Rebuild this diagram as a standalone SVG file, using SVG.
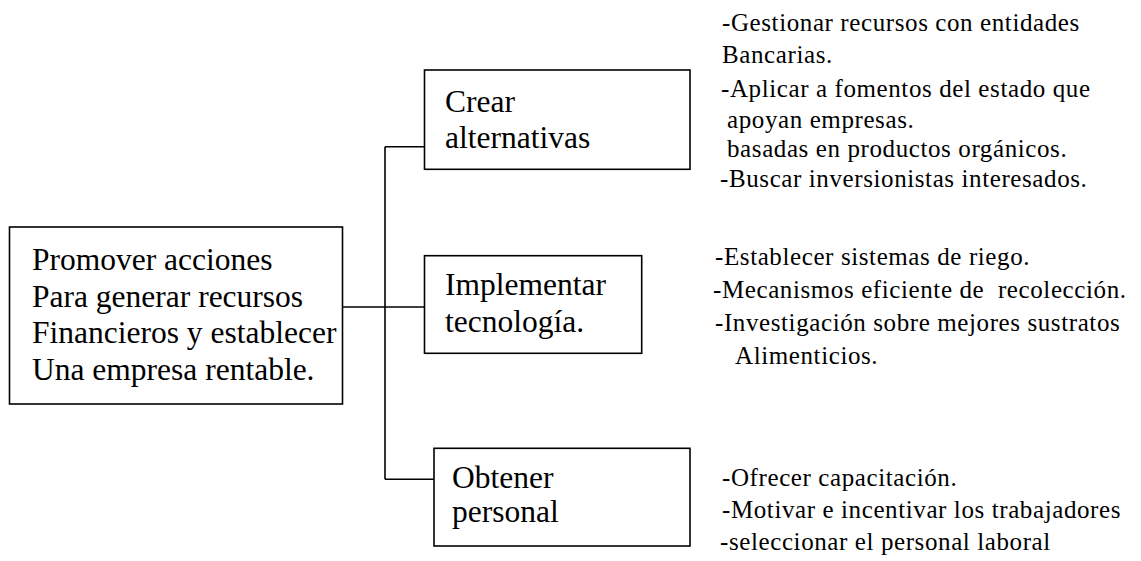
<svg xmlns="http://www.w3.org/2000/svg" width="1141" height="561" viewBox="0 0 1141 561">
<style>
.box{fill:#fff;stroke:#000;stroke-width:1.6}
.bt{font-family:"Liberation Serif","Times New Roman",serif;font-size:31.5px;fill:#000}
.lt{font-family:"Liberation Serif","Times New Roman",serif;font-size:25px;letter-spacing:0.6px;fill:#000;white-space:pre}
.conn{fill:none;stroke:#000;stroke-width:1.6}
</style>
<rect width="1141" height="561" fill="#fff"/>
<g id="connectors">
<path class="conn" d="M340 307H424.5"/>
<path class="conn" d="M385 146.7V479.3"/>
<path class="conn" d="M385 146.7H424.5"/>
<path class="conn" d="M385 479.3H434"/>
</g>
<g id="root">
<rect class="box" x="9.5" y="227" width="333" height="177"/>
<text class="bt" x="32" y="270">Promover acciones</text>
<text class="bt" x="32" y="306.5">Para generar recursos</text>
<text class="bt" x="32" y="343">Financieros y establecer</text>
<text class="bt" x="32" y="379.5">Una empresa rentable.</text>
</g>
<g id="crear">
<rect class="box" x="424.5" y="70" width="265.5" height="99.3"/>
<text class="bt" x="445" y="111.7">Crear</text>
<text class="bt" x="445" y="148">alternativas</text>
</g>
<g id="implementar">
<rect class="box" x="424.5" y="255.7" width="217.2" height="97.6"/>
<text class="bt" x="445" y="295">Implementar</text>
<text class="bt" x="445" y="331.7">tecnología.</text>
</g>
<g id="obtener">
<rect class="box" x="434" y="448.3" width="256" height="97.7"/>
<text class="bt" x="452" y="488.3">Obtener</text>
<text class="bt" x="452" y="521.7">personal</text>
</g>
<g id="list-crear">
<text class="lt" x="722" y="31">-Gestionar recursos con entidades</text>
<text class="lt" x="722" y="63">Bancarias.</text>
<text class="lt" x="721" y="96.5">-Aplicar a fomentos del estado que</text>
<text class="lt" x="727" y="128">apoyan empresas.</text>
<text class="lt" x="727" y="157">basadas en productos orgánicos.</text>
<text class="lt" x="720" y="187">-Buscar inversionistas interesados.</text>
</g>
<g id="list-implementar">
<text class="lt" x="715" y="265">-Establecer sistemas de riego.</text>
<text class="lt" x="713" y="298.3" xml:space="preserve">-Mecanismos eficiente de  recolección.</text>
<text class="lt" x="715" y="330.7">-Investigación sobre mejores sustratos</text>
<text class="lt" x="735" y="363.5">Alimenticios.</text>
</g>
<g id="list-obtener">
<text class="lt" x="722" y="486">-Ofrecer capacitación.</text>
<text class="lt" x="722" y="518.3">-Motivar e incentivar los trabajadores</text>
<text class="lt" x="720" y="550">-seleccionar el personal laboral</text>
</g>
</svg>
